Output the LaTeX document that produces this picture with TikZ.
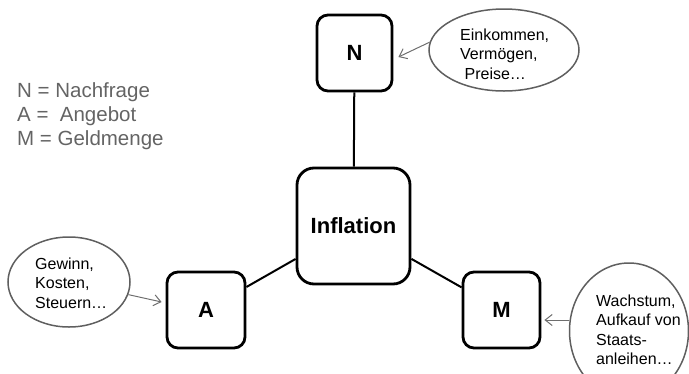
\documentclass[tikz,border=0pt]{standalone}
\usepackage{fontspec}
\setmainfont{Liberation Sans}
\usetikzlibrary{shapes.geometric,arrows.meta,calc}
\definecolor{legendgray}{RGB}{100,100,100}
\definecolor{ellgray}{RGB}{95,95,95}
\definecolor{arrgray}{RGB}{110,110,110}
\tikzset{
  box/.style={draw=black,line width=2.8pt,rounded corners=11pt,inner sep=0pt,font=\fontsize{22}{24}\selectfont\bfseries},
  bigbox/.style={box,rounded corners=17pt},
  bubble/.style={draw=ellgray,line width=1.5pt,ellipse,inner sep=0pt},
  bubbletext/.style={align=left,inner sep=0pt,font=\fontsize{16}{19.5}\selectfont},
  link/.style={line width=2pt,black},
  pointer/.style={draw=arrgray,line width=1pt,-{Straight Barb[length=7pt,width=11pt]}},
}
\begin{document}
\begin{tikzpicture}[x=1pt,y=-1pt]
\useasboundingbox (0,0) rectangle (689,373);
\clip (0,0) rectangle (689,373);
% boxes
\node[box,minimum width=75pt,minimum height=76pt] (N) at (354.5,53) {N};
\node[bigbox,minimum width=113pt,minimum height=116pt] (I) at (353.5,226) {Inflation};
\node[box,minimum width=78pt,minimum height=76pt] (A) at (206,310) {A};
\node[box,minimum width=77pt,minimum height=76pt] (M) at (501.5,310) {M};
% links
\draw[link] (I) -- (N);
\draw[link] (I) -- (A);
\draw[link] (I) -- (M);
% bubbles
\node[bubble,minimum width=150pt,minimum height=82pt] (e1) at (504,50) {};
\node[bubbletext,anchor=west] (t1) at (460,54) {Einkommen,\\Vermögen,\\\ Preise…};
\node[bubble,minimum width=122pt,minimum height=90pt] (g) at (69,282) {};
\node[bubbletext,anchor=west] (t2) at (35,283) {Gewinn,\\Kosten,\\Steuern…};
\node[bubble,minimum width=119pt,minimum height=136pt] (w) at (629,331) {};
\node[bubbletext,anchor=west] (t3) at (596,330) {Wachstum,\\Aufkauf von\\Staats-\\anleihen…};
% pointers
\draw[pointer] (e1.174) -- ($(N.east)+(5,4)$);
\draw[pointer] (g.-12) -- ($(A.west)+(-4,-8)$);
\draw[pointer] ($(w.west)+(0,-11)$) -- ($(w.west -| M.east)+(3,-11)$);
% legend
\node[anchor=west,align=left,inner sep=0pt,text=legendgray,font=\fontsize{20.5}{24}\selectfont] (leg) at (17,116) {N = Nachfrage\\A = \ Angebot\\M = Geldmenge};
\end{tikzpicture}
\end{document}
